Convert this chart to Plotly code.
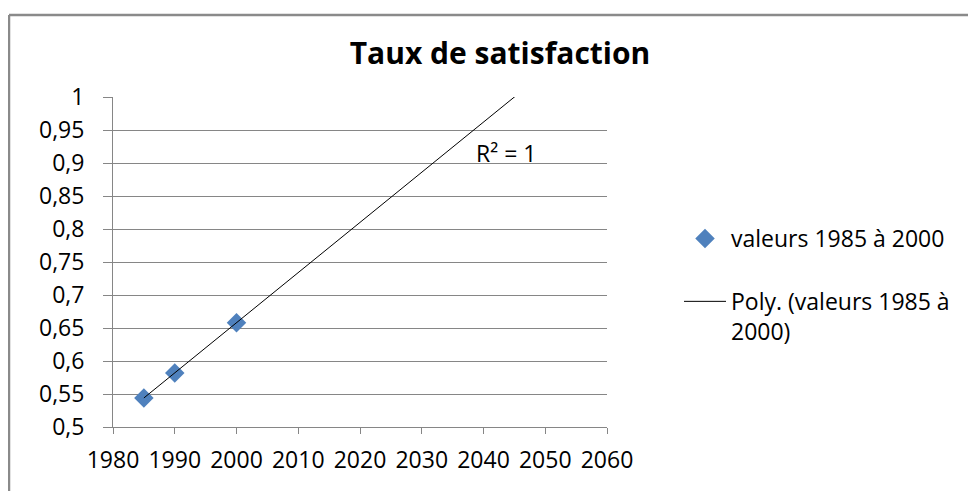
import numpy as np
import plotly.graph_objects as go

years = [1985, 1990, 2000]
values = [0.544, 0.582, 0.658]
series_name = "valeurs 1985 à 2000"
trend_name = "Poly. (valeurs 1985 à<br>2000)"
x_ticks = [1980, 1990, 2000, 2010, 2020, 2030, 2040, 2050, 2060]
y_ticks = [0.5, 0.55, 0.6, 0.65, 0.7, 0.75, 0.8, 0.85, 0.9, 0.95, 1.0]
y_labels = ["0,5", "0,55", "0,6", "0,65", "0,7", "0,75", "0,8", "0,85", "0,9", "0,95", "1"]

# polynomial (order 2) trend line, forecast forward
coef = np.polyfit(years, values, 2)
tx = np.linspace(min(years), 2055, 300)
ty = np.polyval(coef, tx)

FONT = "Open Sans"
GRID = "#868686"
FS = 23

# page body has an 8px margin; figure is sized so it ends at the window edge
W, H = 968, 483
L, R, T, B = 105, 369, 89, 64
PW, PH = W - L - R, H - T - B

fig = go.Figure()
fig.add_trace(go.Scatter(
    x=years, y=values, mode="markers", name=series_name,
    marker=dict(symbol="diamond", size=15, color="#4F81BD"),
    legendgroup="a",
))
fig.add_trace(go.Scatter(
    x=tx, y=ty, mode="lines", name=trend_name,
    line=dict(color="#000000", width=1),
    legendgroup="b",
))

fig.update_layout(
    width=W, height=H,
    margin=dict(l=L, r=R, t=T, b=B),
    paper_bgcolor="white", plot_bgcolor="white",
    font=dict(family=FONT, size=FS, color="#000000"),
    title=dict(text="<b>Taux de satisfaction</b>", x=(500 - 8) / W, xanchor="center",
               y=1 - (53 - 8) / H, yanchor="middle", xref="container", yref="container",
               font=dict(family=FONT, size=30, color="#000000")),
    legend=dict(x=(679 - 8 - L) / PW, xanchor="left", y=1 - (217 - 97) / PH, yanchor="top",
                traceorder="grouped", tracegroupgap=30, valign="top", itemwidth=42,
                borderwidth=0, font=dict(family=FONT, size=FS)),
    showlegend=True,
)
fig.update_xaxes(
    range=[1980, 2060], tickvals=x_ticks, ticktext=[str(v) for v in x_ticks],
    showgrid=False, zeroline=False, showline=True, linecolor=GRID, linewidth=1,
    ticks="outside", ticklen=6, tickcolor=GRID, ticklabelstandoff=6,
    tickfont=dict(family=FONT, size=FS),
)
fig.update_yaxes(
    range=[0.5, 1.0], tickvals=y_ticks, ticktext=y_labels,
    showgrid=True, gridcolor=GRID, gridwidth=1, zeroline=False,
    showline=True, linecolor=GRID, linewidth=1,
    ticks="outside", ticklen=9, tickcolor=GRID, ticklabelstandoff=14,
    tickfont=dict(family=FONT, size=FS),
)
fig.add_annotation(x=2038.4, y=0.915, xref="x", yref="y", text="R² = 1",
                   showarrow=False, xanchor="left", yanchor="middle",
                   font=dict(family=FONT, size=FS, color="#000000"))
# chart frame (top and left edges visible)
fx = (9 - 8 - L) / PW
fy = 1 + (T - (15 - 8)) / PH
fig.add_shape(type="line", xref="paper", yref="paper",
              x0=fx, x1=1.0 + 400 / PW, y0=fy, y1=fy,
              line=dict(color="#8a8a8a", width=2.5))
fig.add_shape(type="line", xref="paper", yref="paper",
              x0=fx, x1=fx, y0=-100 / PH, y1=fy,
              line=dict(color="#8a8a8a", width=2.5))

fig.write_html("out.html")
